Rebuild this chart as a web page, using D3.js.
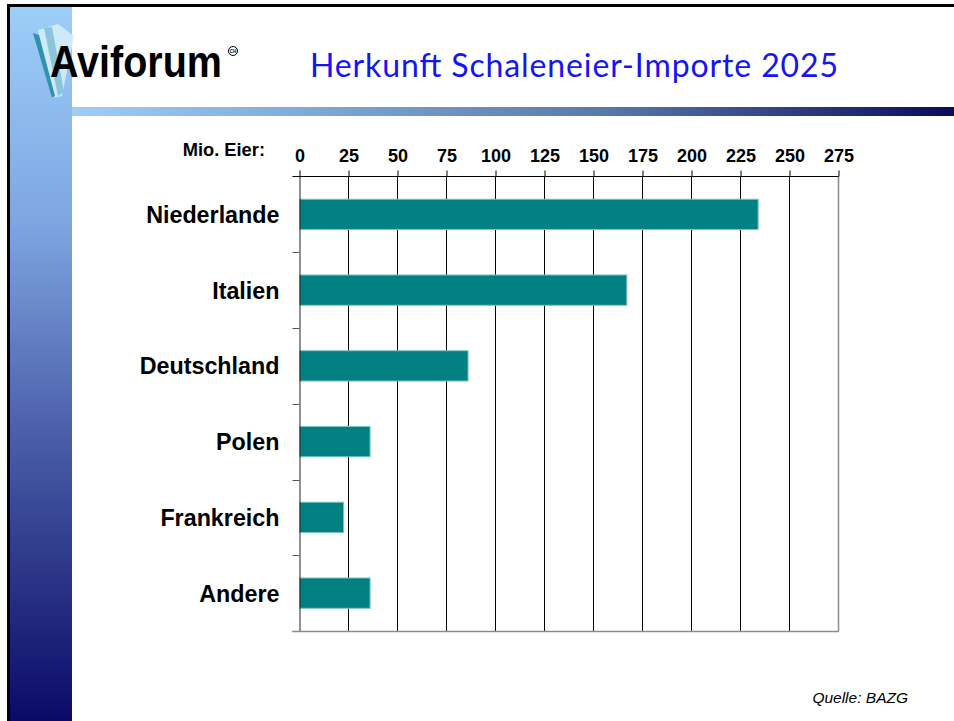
<!DOCTYPE html>
<html>
<head>
<meta charset="utf-8">
<script src="https://cdn.jsdelivr.net/npm/d3@7"></script>
<style>
  html, body { margin: 0; padding: 0; background: #fff; }
  svg { display: block; }
</style>
</head>
<body>
<svg id="chart" width="954" height="721"></svg>
<script>
// ---- data ----
const categories = ["Niederlande", "Italien", "Deutschland", "Polen", "Frankreich", "Andere"];
const values = [234, 167, 86, 36, 22.5, 36];
const tickValues = [0, 25, 50, 75, 100, 125, 150, 175, 200, 225, 250, 275];
const titleText = "Herkunft Schaleneier-Importe 2025";
const unitLabel = "Mio. Eier:";
const sourceText = "Quelle: BAZG";

const svg = d3.select("#chart");
const defs = svg.append("defs");

// gradients
const gV = defs.append("linearGradient").attr("id", "gv").attr("x1", 0).attr("y1", 0).attr("x2", 0).attr("y2", 1);
[[0, "#9dcef8"], [0.3, "#7ea6e2"], [0.6, "#4a5ea8"], [1, "#0a0a66"]].forEach(s => gV.append("stop").attr("offset", s[0]).attr("stop-color", s[1]));
const gH = defs.append("linearGradient").attr("id", "gh").attr("x1", 0).attr("y1", 0).attr("x2", 1).attr("y2", 0);
[[0, "#9dcef8"], [0.6, "#5a7aaa"], [1, "#0a0a5e"]].forEach(s => gH.append("stop").attr("offset", s[0]).attr("stop-color", s[1]));

// frame
svg.append("rect").attr("x", 10).attr("y", 7).attr("width", 62).attr("height", 714).attr("fill", "url(#gv)");
svg.append("rect").attr("x", 72).attr("y", 107).attr("width", 882).attr("height", 9).attr("fill", "url(#gh)");
svg.append("rect").attr("x", 7).attr("y", 4).attr("width", 947).attr("height", 3).attr("fill", "#000");
svg.append("rect").attr("x", 7).attr("y", 4).attr("width", 3).attr("height", 717).attr("fill", "#000");

// logo feather
const logo = svg.append("g");
logo.append("path").attr("d", "M38,30 L58,24 L74,36 L62,96 L52,98 Z").attr("fill", "#d4ecf8").attr("opacity", 0.9);
logo.append("path").attr("d", "M44,28 L52,27 L64,92 L58,96 Z").attr("fill", "#8cc4dc");
logo.append("path").attr("d", "M33,33 L39,35 L55,96 L52,98 Z").attr("fill", "#2f93ad");
const logoText = logo.append("text")
  .attr("font-family", "Liberation Sans, Arial, sans-serif").attr("font-weight", "bold")
  .attr("font-size", 45).attr("fill", "#000").text("Aviforum");
const natW = logoText.node().getComputedTextLength();
logoText.attr("transform", `translate(50,77) scale(${172 / natW},1)`);
logo.append("circle").attr("cx", 233).attr("cy", 51).attr("r", 4.5).attr("fill", "none").attr("stroke", "#000").attr("stroke-width", 1);
logo.append("text").attr("x", 233).attr("y", 52.8).attr("text-anchor", "middle")
  .attr("font-family", "Liberation Sans, Arial, sans-serif").attr("font-size", 4.5).attr("font-weight", "bold").text("CH");

// title
svg.append("text").attr("x", 310).attr("y", 77)
  .attr("font-family", "Lato, 'Open Sans', sans-serif").attr("font-size", 32)
  .attr("textLength", 528).attr("lengthAdjust", "spacing")
  .attr("fill", "#1414f4").text(titleText);

// scales
const x = d3.scaleLinear().domain([0, 275]).range([299, 838]);
const y = d3.scaleBand().domain(categories).range([176.5, 631]).paddingInner(0.6).paddingOuter(0.3);
const yOuter = d3.scaleBand().domain(categories).range([176.5, 631]);

const font = "Liberation Sans, Arial, Helvetica, sans-serif";

// gridlines
svg.append("g").selectAll("line").data(tickValues.slice(1)).join("line")
  .attr("x1", d => Math.round(x(d)) + 0.5).attr("x2", d => Math.round(x(d)) + 0.5)
  .attr("y1", 176.5).attr("y2", 631)
  .attr("stroke", d => d === 275 ? "#8a8a8a" : "#000").attr("stroke-width", d => d === 275 ? 1.5 : 1);

// top axis
const topAxis = d3.axisTop(x).tickValues(tickValues).tickSize(6).tickSizeOuter(0).tickFormat(d3.format("d"));
const gTop = svg.append("g").attr("transform", "translate(0.5,176.5)").call(topAxis);
gTop.select(".domain").remove();
gTop.append("line").attr("x1", 292).attr("x2", 838).attr("y1", 0).attr("y2", 0).attr("stroke", "#000");
gTop.selectAll(".tick line").attr("stroke", "#000");
gTop.selectAll(".tick text").attr("y", -15).attr("dy", 0)
  .attr("font-family", font).attr("font-weight", "bold").attr("font-size", 18).attr("fill", "#000");

// unit label
svg.append("text").attr("x", 265).attr("y", 155.7).attr("text-anchor", "end")
  .attr("font-family", font).attr("font-weight", "bold").attr("font-size", 18.3).attr("fill", "#000").text(unitLabel);

// bars
svg.append("g").selectAll("rect").data(categories).join("rect")
  .attr("x", x(0) + 0.5).attr("y", d => y(d))
  .attr("width", (d, i) => x(values[i]) - x(0)).attr("height", y.bandwidth())
  .attr("fill", "#008080").attr("stroke", "#7cc4c2").attr("stroke-width", 1);

// left axis
const leftAxis = d3.axisLeft(yOuter).tickSize(0).tickPadding(20);
const gLeft = svg.append("g").attr("transform", "translate(299.5,0)").call(leftAxis);
gLeft.select(".domain").attr("stroke", "#222");
gLeft.selectAll(".tick text").attr("dy", "0.36em")
  .attr("font-family", font).attr("font-weight", "bold").attr("font-size", 23.3).attr("fill", "#000");
// band boundary ticks
gLeft.append("g").selectAll("line").data(categories.slice(1)).join("line")
  .attr("x1", -7).attr("x2", 0)
  .attr("y1", d => Math.round(yOuter(d)) + 0.5).attr("y2", d => Math.round(yOuter(d)) + 0.5)
  .attr("stroke", "#555");

// bottom axis line
svg.append("line").attr("x1", 292).attr("x2", 839).attr("y1", 631.5).attr("y2", 631.5).attr("stroke", "#8a8a8a").attr("stroke-width", 1.5);

// source
svg.append("text").attr("x", 908).attr("y", 703).attr("text-anchor", "end")
  .attr("font-family", font).attr("font-style", "italic").attr("font-size", 15.5).attr("fill", "#000").text(sourceText);
</script>
</body>
</html>
